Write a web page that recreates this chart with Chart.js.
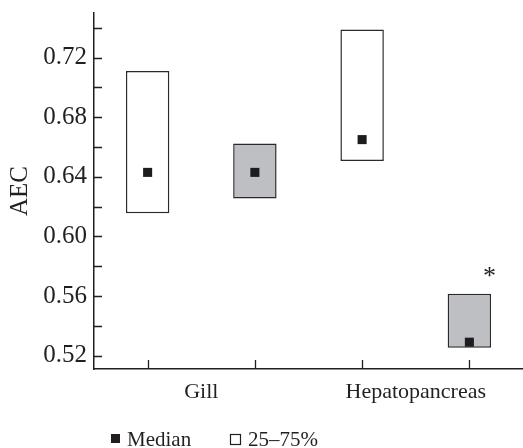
<!DOCTYPE html>
<html>
<head>
<meta charset="utf-8">
<script src="https://cdn.jsdelivr.net/npm/chart.js@4"></script>
<style>
html,body{margin:0;padding:0;background:#fff;overflow:hidden;}
#wrap{width:523px;height:448px;position:relative;overflow:hidden;}
canvas{display:block;}
</style>
</head>
<body>
<div id="wrap"><canvas id="c"></canvas></div>
<script>
// ---- data ----
const groups = ['Gill', 'Hepatopancreas'];
const categories = ['Gill A', 'Gill B', 'Hepatopancreas A', 'Hepatopancreas B'];
const q25 = [0.6155, 0.6255, 0.6507, 0.5252];
const q75 = [0.711, 0.6624, 0.739, 0.5615];
const medians = [0.643, 0.643, 0.665, 0.529];
const significance = ['', '', '', '*'];
const yMajorTicks = [0.52, 0.56, 0.60, 0.64, 0.68, 0.72];
const yMinorTicks = [0.54, 0.58, 0.62, 0.66, 0.70, 0.74];
const legendLabels = ['Median', '25\u201375%'];

// ---- styles ----
const boxFills = ['#ffffff', '#bebfc3', '#ffffff', '#bebfc3'];
const ink = '#231f20';
const FONT = "'Liberation Serif', 'DejaVu Serif', serif";

function noPad(s) { s.paddingTop = 0; s.paddingBottom = 0; s.paddingLeft = 0; s.paddingRight = 0; }

const inwardTicks = {
  id: 'inwardTicks',
  afterDraw(chart) {
    const ctx = chart.ctx;
    const y = chart.scales.y, x = chart.scales.x;
    const ay = chart.chartArea.bottom;
    ctx.save();
    ctx.strokeStyle = ink;
    ctx.lineWidth = 1.3;
    ctx.beginPath();
    yMajorTicks.concat(yMinorTicks).forEach(v => {
      const py = Math.round(y.getPixelForValue(v)) + 0.5;
      ctx.moveTo(chart.chartArea.left, py);
      ctx.lineTo(chart.chartArea.left + 8, py);
    });
    categories.forEach((c, i) => {
      const px = Math.round(x.getPixelForValue(i)) + 0.5;
      ctx.moveTo(px, ay);
      ctx.lineTo(px, ay - 9);
    });
    ctx.stroke();
    // significance marks
    ctx.fillStyle = ink;
    ctx.font = "26px " + FONT;
    ctx.textAlign = 'center';
    ctx.textBaseline = 'alphabetic';
    significance.forEach((s, i) => {
      if (!s) return;
      const px = x.getPixelForValue(i) + 20;
      const py = y.getPixelForValue(q75[i]) - 10;
      ctx.fillText(s, px, py);
    });
    // legend
    ctx.font = "21px " + FONT;
    ctx.textAlign = 'left';
    ctx.fillStyle = ink;
    ctx.fillRect(111, 434, 9, 9);
    ctx.fillText(legendLabels[0], 127, 446);
    ctx.lineWidth = 1.2;
    ctx.strokeRect(230.5, 434.5, 10, 10);
    ctx.fillText(legendLabels[1], 248, 446);
    ctx.restore();
  }
};

new Chart(document.getElementById('c'), {
  type: 'bar',
  data: {
    labels: categories,
    datasets: [
      {
        type: 'line',
        label: legendLabels[0],
        data: medians,
        showLine: false,
        pointStyle: 'rect',
        pointRadius: 6.4,
        pointHoverRadius: 6.4,
        pointBackgroundColor: '#1d1d1d',
        pointBorderWidth: 0,
        clip: false,
        order: 0
      },
      {
        label: legendLabels[1],
        data: categories.map((c, i) => [q25[i], q75[i]]),
        backgroundColor: boxFills,
        borderColor: '#2a2a2a',
        borderWidth: 1.5,
        borderSkipped: false,
        categoryPercentage: 1,
        barPercentage: 0.405,
        order: 1
      }
    ]
  },
  options: {
    responsive: true,
    maintainAspectRatio: false,
    animation: false,
    layout: { autoPadding: false, padding: { top: 13, right: 0, bottom: 39, left: 0 } },
    plugins: { legend: { display: false }, tooltip: { enabled: false } },
    scales: {
      x: {
        position: 'bottom',
        grid: { display: false, drawTicks: false },
        ticks: { display: false },
        border: { display: true, color: ink, width: 1.5 },
        afterFit(s) { s.height = 0; noPad(s); }
      },
      x2: {
        type: 'category',
        labels: groups,
        position: 'bottom',
        offset: true,
        grid: { display: false, drawTicks: false },
        border: { display: false },
        ticks: { color: ink, font: { family: FONT, size: 22 }, padding: 10, maxRotation: 0 },
        afterFit(s) { s.height = 40; noPad(s); }
      },
      y: {
        min: 0.511,
        max: 0.75,
        grid: { display: false, drawTicks: false },
        border: { display: true, color: ink, width: 1.5 },
        afterBuildTicks(s) { s.ticks = yMajorTicks.map(v => ({ value: v })); },
        ticks: {
          color: ink,
          padding: 7,
          font: { family: FONT, size: 25 },
          callback: v => Number(v).toFixed(2)
        },
        title: {
          display: true,
          text: 'AEC',
          color: ink,
          font: { family: FONT, size: 25 },
          padding: { top: 5, bottom: 0 }
        },
        afterFit(s) { s.width = 94; noPad(s); }
      }
    }
  },
  plugins: [inwardTicks]
});
</script>
</body>
</html>
